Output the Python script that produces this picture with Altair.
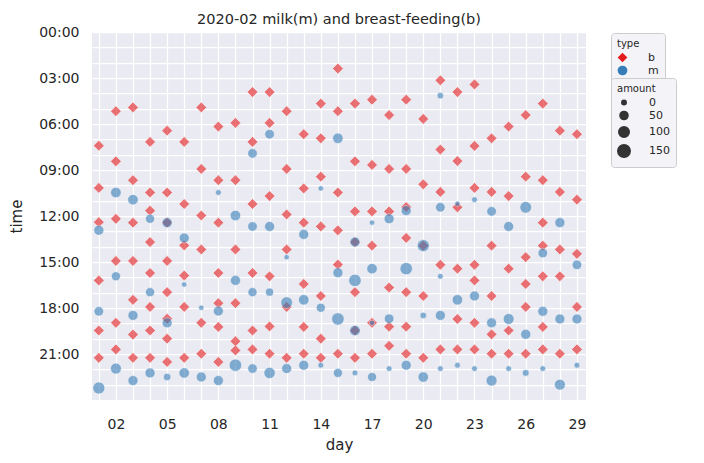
import altair as alt
import pandas as pd

# breast-feeding (b) times per day, day 1..29
b_times = [
    ["7:25", "10:10", "12:24", "16:12", "19:28", "21:15"],
    ["5:10", "8:26", "12:11", "14:56", "18:58", "20:42"],
    ["4:55", "9:40", "12:26", "14:56", "17:28", "19:44", "21:15"],
    ["7:10", "10:28", "11:39", "13:42", "15:43", "17:56", "19:28", "21:15"],
    ["6:26", "10:28", "12:26", "14:56", "16:58", "18:42", "20:00", "21:31"],
    ["7:10", "11:13", "13:55", "15:53", "17:56", "21:15"],
    ["4:55", "8:56", "11:58", "14:11", "18:58", "20:59"],
    ["6:10", "9:40", "12:26", "15:43", "17:41", "19:14", "21:31"],
    ["5:56", "9:40", "14:11", "17:41", "20:10", "20:46"],
    ["3:55", "7:10", "11:13", "15:43", "19:28", "20:42"],
    ["3:55", "5:56", "10:42", "15:56", "19:12", "20:59"],
    ["5:10", "8:56", "11:54", "14:11", "17:56", "21:15"],
    ["6:40", "10:12", "12:26", "16:26", "19:14", "20:59"],
    ["4:40", "6:56", "9:26", "12:41", "17:13", "20:00", "21:15"],
    ["2:23", "5:10", "10:28", "12:56", "15:10", "20:59"],
    ["4:40", "8:26", "11:42", "13:42", "16:58", "19:28", "21:15"],
    ["4:25", "8:40", "11:42", "13:56", "18:58", "20:59"],
    ["5:25", "8:56", "11:42", "16:40", "19:13", "20:28"],
    ["4:25", "8:56", "11:25", "13:26", "16:58", "19:13", "20:59"],
    ["5:40", "9:56", "13:56", "17:13", "21:15"],
    ["3:09", "7:40", "10:26", "15:11", "20:42"],
    ["3:55", "8:25", "11:26", "15:26", "18:43", "20:42"],
    ["3:25", "7:26", "10:10", "15:11", "16:12", "18:58", "20:42"],
    ["6:56", "10:26", "13:56", "17:13", "19:43", "20:59"],
    ["6:10", "10:42", "15:26", "19:28", "20:59"],
    ["5:25", "9:26", "14:41", "16:26", "17:56", "20:59"],
    ["4:40", "9:40", "12:26", "13:56", "15:56", "19:14", "20:42"],
    ["6:26", "10:26", "14:11", "15:56", "20:59"],
    ["6:40", "10:56", "14:28", "17:56", "20:42"],
]

# milk (m) times per day, day 1..29
m_times = [
    ["12:56", "18:13", "23:13"],
    ["10:28", "15:56", "21:57"],
    ["10:56", "18:29", "22:44"],
    ["12:11", "16:58", "22:14"],
    ["12:26", "18:58", "22:30"],
    ["13:26", "16:28", "22:14"],
    ["17:59", "22:30"],
    ["10:28", "18:12", "22:44"],
    ["11:58", "16:12", "21:44"],
    ["7:55", "12:41", "16:58", "21:57"],
    ["6:40", "12:41", "16:58", "22:14"],
    ["14:41", "17:39", "21:57"],
    ["13:12", "17:28", "21:44"],
    ["10:12", "17:59", "21:44"],
    ["6:56", "15:42", "18:43", "22:14"],
    ["13:42", "16:12", "19:28", "22:14"],
    ["12:26", "15:26", "18:58", "22:30"],
    ["12:11", "18:42", "21:57"],
    ["11:39", "15:26", "21:44"],
    ["13:56", "18:29", "22:30"],
    ["4:09", "11:26", "15:56", "18:29", "21:57"],
    ["11:12", "17:28", "21:44"],
    ["10:56", "17:13", "21:57"],
    ["11:42", "18:58", "22:44"],
    ["12:41", "18:43", "21:57"],
    ["11:26", "19:43", "22:14"],
    ["14:25", "18:13", "21:57"],
    ["12:26", "18:43", "23:00"],
    ["15:11", "18:43", "21:44"],
]

# milk amounts, matching m_times
m_amounts = [
    [90, 80, 140],
    [100, 70, 110],
    [100, 90, 90],
    [70, 70, 90],
    [90, 90, 40],
    [90, 10, 100],
    [10, 90],
    [15, 90, 90],
    [100, 90, 150],
    [80, 80, 70, 80],
    [80, 90, 50, 120],
    [10, 130, 90],
    [90, 100, 90],
    [10, 70, 15],
    [100, 90, 150, 70],
    [90, 150, 100, 15],
    [10, 100, 10, 70],
    [90, 80, 15],
    [90, 150, 90],
    [140, 25, 100],
    [25, 80, 15, 90, 15],
    [10, 100, 15],
    [15, 90, 15],
    [80, 90, 110],
    [90, 110, 15],
    [130, 90, 30],
    [80, 90, 15],
    [90, 90, 110],
    [80, 90, 15],
]

types = ["b", "m"]
type_colors = ["#e41a1c", "#377eb8"]
type_shapes = ["diamond", "circle"]
amount_legend_values = [0, 50, 100, 150]


def to_hours(s):
    h, m = s.split(":")
    return int(h) + int(m) / 60.0


b_rows = []
for i, ts in enumerate(b_times):
    for t in ts:
        b_rows.append({"day": i + 1, "hour": to_hours(t), "type": "b"})
m_rows = []
for i, (ts, am) in enumerate(zip(m_times, m_amounts)):
    for t, a in zip(ts, am):
        m_rows.append({"day": i + 1, "hour": to_hours(t), "amount": a, "type": "m"})

b_df = pd.DataFrame(b_rows)
m_df = pd.DataFrame(m_rows)

FONT = "DejaVu Sans"
TXT = "#262626"
LEG_FILL = "#f4f4f8"
LEG_STROKE = "#cccccc"

x_enc = alt.X(
    "day:Q",
    scale=alt.Scale(domain=[0.6, 29.53], nice=False, zero=False),
    axis=alt.Axis(
        title="day",
        values=list(range(1, 30)),
        labelExpr="(datum.value - 2) % 3 == 0 ? (datum.value < 10 ? '0' + datum.value : '' + datum.value) : ''",
        ticks=False, domain=False, grid=True, gridColor="white", gridWidth=1.25,
        labelOverlap=False, labelFlush=False, labelPadding=17,
        labelFontSize=14, titleFontSize=15, labelColor=TXT, titleColor=TXT,
        labelFont=FONT, titleFont=FONT, titleFontWeight="normal", titlePadding=6,
    ),
)
y_enc = alt.Y(
    "hour:Q",
    scale=alt.Scale(domain=[0, 24], reverse=True, nice=False, zero=False),
    axis=alt.Axis(
        title="time",
        values=list(range(0, 25)),
        labelExpr="datum.value % 3 == 0 && datum.value < 24 ? (datum.value < 10 ? '0' + datum.value : '' + datum.value) + ':00' : ''",
        ticks=False, domain=False, grid=True, gridColor="white", gridWidth=1.25,
        labelOverlap=False, labelFlush=False, labelPadding=13,
        labelFontSize=14, titleFontSize=15, labelColor=TXT, titleColor=TXT,
        labelFont=FONT, titleFont=FONT, titleFontWeight="normal", titlePadding=14,
    ),
)

color_enc = alt.Color(
    "type:N",
    scale=alt.Scale(domain=types, range=type_colors),
    legend=alt.Legend(
        title="type", orient="none", legendX=519, legendY=1,
        symbolOpacity=1, symbolSize=95, symbolStrokeWidth=0,
        labelFontSize=11, titleFontSize=10, titleFontWeight="normal",
        labelFont=FONT, titleFont=FONT, labelColor=TXT, titleColor=TXT,
        fillColor=LEG_FILL, strokeColor=LEG_STROKE, cornerRadius=3,
        padding=6, rowPadding=1, titlePadding=3, labelOffset=20,
    ),
)
shape_enc = alt.Shape(
    "type:N",
    scale=alt.Scale(domain=types, range=type_shapes),
    legend=alt.Legend(title="type"),
)

b_layer = alt.Chart(b_df).mark_point(
    filled=True, opacity=0.6, size=115, stroke="white", strokeWidth=0.6
).encode(x=x_enc, y=y_enc, color=color_enc, shape=shape_enc)

m_layer = alt.Chart(m_df).mark_point(
    filled=True, opacity=0.6, stroke="white", strokeWidth=0.6
).encode(
    x=x_enc, y=y_enc, color=color_enc, shape=shape_enc,
    size=alt.Size(
        "amount:Q",
        scale=alt.Scale(domain=[0, 150], range=[20, 155]),
        legend=alt.Legend(
            title="amount", orient="none", legendX=519, legendY=46,
            values=amount_legend_values,
            symbolOpacity=1, symbolFillColor="#333333", symbolStrokeColor="#333333",
            symbolType="circle",
            labelFontSize=11, titleFontSize=10, titleFontWeight="normal",
            labelFont=FONT, titleFont=FONT, labelColor=TXT, titleColor=TXT,
            fillColor=LEG_FILL, strokeColor=LEG_STROKE, cornerRadius=3,
            padding=6, rowPadding=0, titlePadding=3, labelOffset=18,
        ),
    ),
)

chart = alt.layer(b_layer, m_layer).properties(
    width=494,
    height=368,
    background="white",
    title=alt.TitleParams(
        "2020-02 milk(m) and breast-feeding(b)",
        fontSize=14.5, fontWeight="normal", color=TXT, font=FONT, offset=-2,
    ),
    autosize=alt.AutoSizeParams(type="none"),
    padding={"left": 84, "top": 24, "right": 110, "bottom": 55},
).resolve_legend(color="shared").configure_view(
    fill="#eaeaf2", strokeWidth=0
)

chart.save("out.html", embed_options={"renderer": "svg", "actions": False})
